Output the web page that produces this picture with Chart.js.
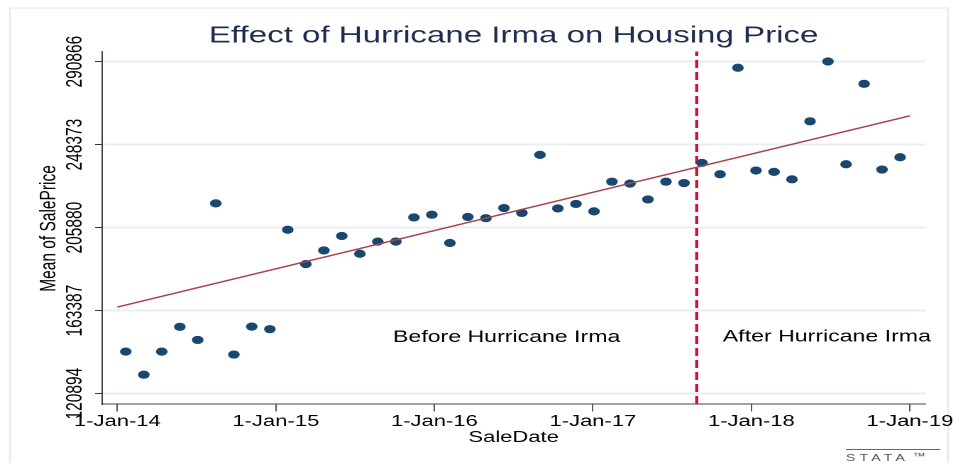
<!DOCTYPE html>
<html>
<head>
<meta charset="utf-8">
<title>Effect of Hurricane Irma on Housing Price</title>
<script src="https://cdn.jsdelivr.net/npm/chart.js@4"></script>
<style>
  html, body { margin: 0; padding: 0; background: #fff; }
  /* the original graph was stretched sideways, so draw narrow and widen with CSS */
  #chart { display: block; width: 958px !important; height: 463px !important; }
</style>
</head>
<body>
<canvas id="chart" width="675" height="463" style="width:958px;height:463px"></canvas>
<script>
// --- Data ---
// sale dates as decimal years
const saleDate = [
  2014.053, 2014.167, 2014.280, 2014.394, 2014.507, 2014.621, 2014.735, 2014.848, 2014.962, 2015.075,
  2015.189, 2015.303, 2015.416, 2015.530, 2015.643, 2015.757, 2015.871, 2015.984, 2016.098, 2016.211,
  2016.325, 2016.439, 2016.552, 2016.666, 2016.779, 2016.893, 2017.007, 2017.120, 2017.234, 2017.347,
  2017.461, 2017.575, 2017.688, 2017.802, 2017.915, 2018.029, 2018.143, 2018.256, 2018.370, 2018.483,
  2018.597, 2018.711, 2018.824, 2018.938
];
const meanPrice = [
  142400, 130600, 142400, 155100, 148400, 218300, 140900, 155200, 153900, 204800,
  187200, 194200, 201600, 192500, 198700, 198700, 211100, 212500, 198000, 211300,
  210700, 215900, 213400, 243100, 215700, 218000, 214200, 229400, 228400, 220300,
  229400, 228700, 239000, 233200, 287700, 235100, 234400, 230600, 260300, 290900,
  238300, 279500, 235600, 241900
];

// linear fit end points
const fitDate = [2014, 2019];
const fitPrice = [165200, 263100];

// hurricane landfall line
const irmaDate = 2017.655;

const xTickYears = [2014, 2015, 2016, 2017, 2018, 2019];
const yTickValues = [120894, 163387, 205880, 248373, 290866];
const xRange = [2013.9035, 2019.0965];
const yRange = [115600, 296000];

const noteText = ["Before Hurricane Irma", "After Hurricane Irma"];
const noteDate = [2016.456, 2018.476];
const notePrice = [149700, 149800];

const FONT = "'Liberation Sans', Arial, sans-serif";

// --- extra drawing: frame, rotated y labels, notes, logo ---
const stataExtras = {
  id: "stataExtras",
  beforeDraw(chart) {
    const ctx = chart.ctx;
    ctx.save();
    ctx.strokeStyle = "#e3eaef";
    ctx.lineWidth = 1.2;
    ctx.strokeRect(7, 8, 661, 480);
    ctx.restore();
  },
  afterDraw(chart) {
    const { ctx, chartArea } = chart;
    const x = chart.scales.x;
    const y = chart.scales.y;
    ctx.save();
    ctx.fillStyle = "#000";
    ctx.font = "15.5px " + FONT;
    ctx.textAlign = "center";
    ctx.textBaseline = "alphabetic";

    // y tick labels, rotated like Stata
    yTickValues.forEach((v) => {
      ctx.save();
      ctx.translate(57.6, y.getPixelForValue(v));
      ctx.rotate(-Math.PI / 2);
      ctx.fillText(String(v), 0, 0);
      ctx.restore();
    });

    // y axis title
    ctx.save();
    ctx.translate(38.8, (chartArea.top + chartArea.bottom) / 2 + 0.7);
    ctx.rotate(-Math.PI / 2);
    ctx.fillText("Mean of SalePrice", 0, 0);
    ctx.restore();

    // text notes
    ctx.font = "16.3px " + FONT;
    ctx.textBaseline = "middle";
    noteText.forEach((t, i) => {
      ctx.fillText(t, x.getPixelForValue(noteDate[i]), y.getPixelForValue(notePrice[i]));
    });

    // stata logo
    ctx.strokeStyle = "#666";
    ctx.lineWidth = 1;
    ctx.beginPath();
    ctx.moveTo(596, 449.5);
    ctx.lineTo(662.5, 449.5);
    ctx.stroke();
    ctx.fillStyle = "#555";
    ctx.textAlign = "left";
    ctx.textBaseline = "alphabetic";
    ctx.font = "10px " + FONT;
    ctx.letterSpacing = "2.9px";
    ctx.fillText("STATA", 596, 461);
    ctx.letterSpacing = "0px";
    ctx.font = "9px " + FONT;
    ctx.fillText("™", 643, 459);
    ctx.restore();
  }
};

const scatterData = saleDate.map((d, i) => ({ x: d, y: meanPrice[i] }));
const fitData = fitDate.map((d, i) => ({ x: d, y: fitPrice[i] }));
const irmaData = [{ x: irmaDate, y: yRange[0] }, { x: irmaDate, y: yRange[1] }];

new Chart(document.getElementById("chart"), {
  type: "scatter",
  data: {
    datasets: [
      {
        type: "line",
        label: "Fitted values",
        data: fitData,
        borderColor: "#a5444c",
        borderWidth: 1.4,
        pointRadius: 0,
        order: 0,
      },
      {
        label: "Mean of SalePrice",
        data: scatterData,
        backgroundColor: "#1a476f",
        borderWidth: 0,
        pointRadius: 4.1,
        order: 1,
      },
      {
        type: "line",
        label: "Hurricane Irma",
        data: irmaData,
        borderColor: "#cf1238",
        borderWidth: 2.2,
        borderDash: [8, 4],
        pointRadius: 0,
        order: 2,
      },
    ],
  },
  options: {
    responsive: false,
    devicePixelRatio: 2,
    animation: false,
    layout: { padding: { left: 0, right: 23.1, top: 0, bottom: 15 } },
    plugins: {
      legend: { display: false },
      tooltip: { enabled: false },
      title: {
        display: true,
        fullSize: false,
        text: "Effect of Hurricane Irma on Housing Price",
        color: "#1e2d4f",
        font: { family: FONT, size: 23.3, weight: "normal" },
        padding: { top: 22.3, bottom: 1.3 },
      },
    },
    scales: {
      x: {
        type: "linear",
        min: xRange[0],
        max: xRange[1],
        bounds: "data",
        afterBuildTicks: (scale) => {
          scale.ticks = xTickYears.map((v) => ({ value: v }));
        },
        afterFit: (scale) => {
          scale.height = 44;
        },
        ticks: {
          color: "#000",
          font: { family: FONT, size: 15.5 },
          padding: 1.1,
          maxRotation: 0,
          autoSkip: false,
          callback: (v) => "1-Jan-" + String(v).slice(2),
        },
        grid: {
          display: true,
          drawOnChartArea: false,
          tickLength: 7.5,
          tickColor: "#555",
          tickWidth: 1,
        },
        border: { display: true, color: "#444", width: 1 },
        title: {
          display: true,
          text: "SaleDate",
          color: "#000",
          font: { family: FONT, size: 15.5 },
          padding: { top: 0, bottom: 1 },
        },
      },
      y: {
        type: "linear",
        min: yRange[0],
        max: yRange[1],
        bounds: "data",
        afterBuildTicks: (scale) => {
          scale.ticks = yTickValues.map((v) => ({ value: v }));
        },
        afterFit: (scale) => {
          scale.width = 71.9;
        },
        ticks: { display: false },
        grid: {
          color: "#e8eef2",
          lineWidth: 2,
          tickLength: 4.9,
          tickColor: "#333",
          tickWidth: 1,
        },
        border: { display: true, color: "#111", width: 0.8 },
      },
    },
  },
  plugins: [stataExtras],
});
</script>
</body>
</html>
